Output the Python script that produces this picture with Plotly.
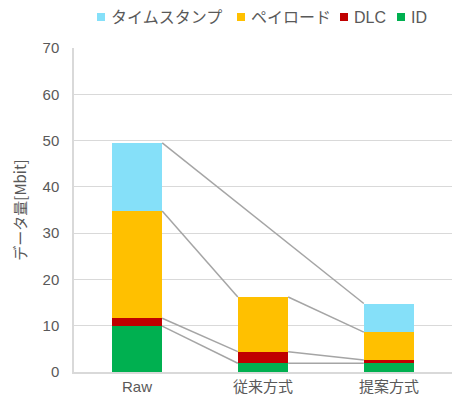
import plotly.graph_objects as go

categories = ["Raw", "従来方式", "提案方式"]
series_names = ["ID", "DLC", "ペイロード", "タイムスタンプ"]
id_vals = [9.9, 1.9, 1.9]
dlc_vals = [1.7, 2.5, 0.7]
payload_vals = [23.2, 11.8, 6.0]
timestamp_vals = [14.7, None, 6.2]
colors = ["#00B050", "#C00000", "#FFC000", "#85E0F9"]

all_vals = [id_vals, dlc_vals, payload_vals, timestamp_vals]
x = list(range(len(categories)))
bar_w = 0.4

W, H = 452, 405
ML, MR, MT, MB = 74, 0, 48, 33
PW, PH = W - ML - MR, H - MT - MB

fig = go.Figure()

# series (connector) lines, computed from cumulative stacks
cum = [0.0] * len(categories)
tops = []
for vals in all_vals:
    t = []
    for i, v in enumerate(vals):
        if v is None:
            t.append(None)
        else:
            cum[i] += v
            t.append(cum[i])
    tops.append(t)

for t in tops:
    idx = [i for i, v in enumerate(t) if v is not None]
    for a, b in zip(idx[:-1], idx[1:]):
        fig.add_trace(go.Scatter(
            x=[x[a] + bar_w / 2, x[b] - bar_w / 2], y=[t[a], t[b]],
            mode="lines", line=dict(color="#A5A5A5", width=1.5),
            showlegend=False, hoverinfo="skip"))

for name, vals, c in zip(series_names, all_vals, colors):
    fig.add_trace(go.Bar(
        x=x, y=[v if v is not None else 0 for v in vals], name=name,
        marker=dict(color=c, line=dict(width=0)), width=bar_w, showlegend=False))

# manual legend (reversed order), one row like the original
def px_x(p):
    return (p - ML) / PW

def px_y(p):
    return (H - MB - p) / PH

legend_px = [97, 237, 340, 397]
legend_y = 17
for (name, c), lx in zip(list(zip(series_names, colors))[::-1], legend_px):
    fig.add_shape(type="rect", xref="paper", yref="paper",
                  x0=px_x(lx), x1=px_x(lx + 8), y0=px_y(legend_y + 4), y1=px_y(legend_y - 4),
                  fillcolor=c, line=dict(width=0))
    fig.add_annotation(xref="paper", yref="paper", x=px_x(lx + 12), y=px_y(legend_y),
                       xanchor="left", yanchor="middle", showarrow=False, text=name,
                       font=dict(size=16, color="#595959",
                                 family="Liberation Sans, Noto Sans CJK JP, sans-serif"))

fig.update_layout(
    barmode="stack",
    width=W, height=H,
    margin=dict(l=ML, r=MR, t=MT, b=MB),
    plot_bgcolor="white", paper_bgcolor="white",
    showlegend=False,
    font=dict(family="Liberation Sans, Noto Sans CJK JP, sans-serif", color="#595959", size=15),
    xaxis=dict(tickvals=x, ticktext=categories, range=[-0.5, 2.5],
               showline=True, linecolor="#D9D9D9", linewidth=1.5,
               showgrid=False, zeroline=False, ticks="",
               tickfont=dict(size=15, family="Liberation Sans, Noto Sans CJK JP")),
    yaxis=dict(range=[0, 70], dtick=10, showgrid=True, gridcolor="#D9D9D9", gridwidth=1.3,
               showline=True, linecolor="#D9D9D9", linewidth=1.5, zeroline=False,
               ticks="", ticklabelstandoff=10,
               title=dict(text="データ量[Mbit]", standoff=12,
                          font=dict(size=15, family="Noto Sans CJK JP", color="#595959"))),
)

fig.write_html("out.html")
